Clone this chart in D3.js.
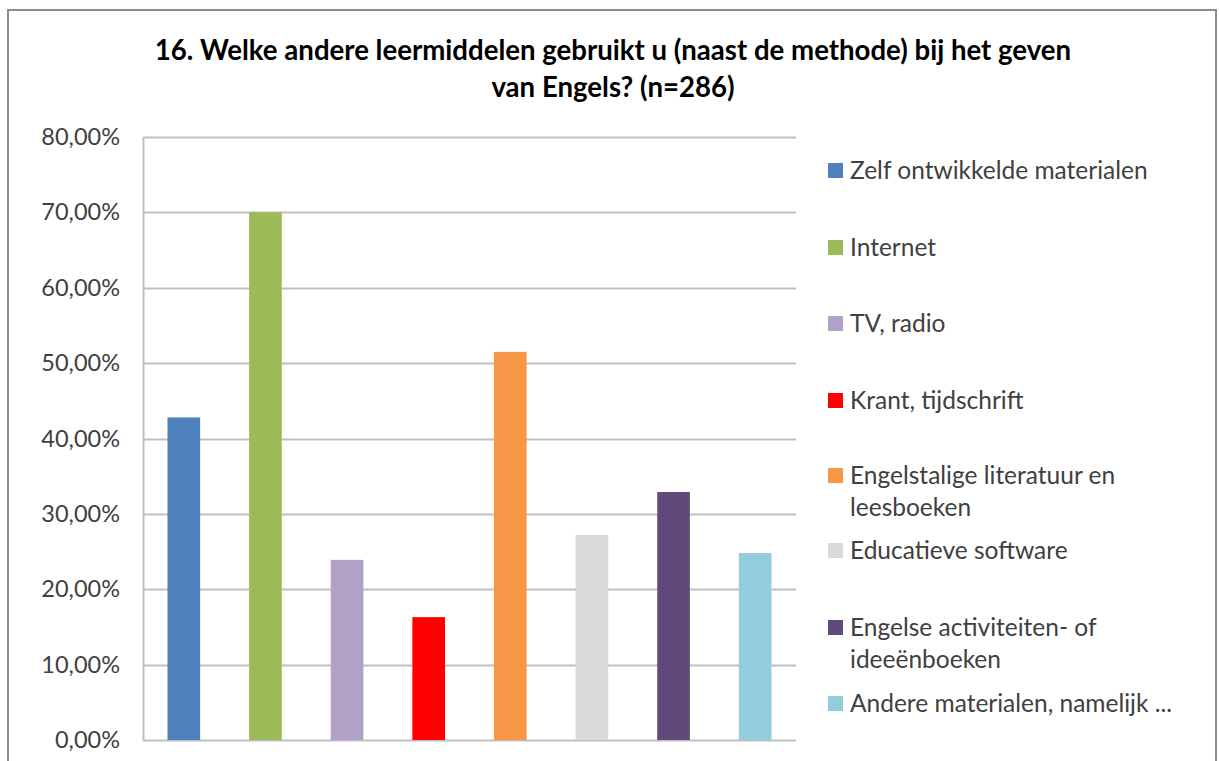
<!DOCTYPE html>
<html>
<head>
<meta charset="utf-8">
<script src="https://cdn.jsdelivr.net/npm/d3@7"></script>
<style>
  html, body { margin: 0; padding: 0; background: #fff; }
  svg { display: block; }
</style>
</head>
<body>
<svg id="chart"></svg>
<script>
// Gegevens van de grafiek
const titleLines = [
    '16. Welke andere leermiddelen gebruikt u (naast de methode) bij het geven',
    'van Engels? (n=286)'
];
const categories = [
    'Zelf ontwikkelde materialen',
    'Internet',
    'TV, radio',
    'Krant, tijdschrift',
    'Engelstalige literatuur en leesboeken',
    'Educatieve software',
    'Engelse activiteiten- of ideeënboeken',
    'Andere materialen, namelijk ...'
];
const legendLines = [
    ['Zelf ontwikkelde materialen'],
    ['Internet'],
    ['TV, radio'],
    ['Krant, tijdschrift'],
    ['Engelstalige literatuur en', 'leesboeken'],
    ['Educatieve software'],
    ['Engelse activiteiten- of', 'ideeënboeken'],
    ['Andere materialen, namelijk ...']
];
const values = [0.428, 0.700, 0.239, 0.163, 0.515, 0.272, 0.329, 0.248];
const colors = ['#4f81bd', '#9bbb59', '#b2a1c7', '#ff0000', '#f79646', '#d9d9d9', '#604a7b', '#93cddd'];
const yTicks = [0, 0.1, 0.2, 0.3, 0.4, 0.5, 0.6, 0.7, 0.8];

const width = 1219;
const height = 761;
const font = 'Lato, "Open Sans", sans-serif';

const svg = d3.select('#chart')
    .attr('width', width)
    .attr('height', height);

// Kader
svg.append('rect')
    .attr('x', 8)
    .attr('y', 10)
    .attr('width', 1208)
    .attr('height', 780)
    .attr('fill', '#fff')
    .attr('stroke', '#8c8c8c')
    .attr('stroke-width', 2);

// Titel
svg.append('g')
    .selectAll('text')
    .data(titleLines)
    .enter()
    .append('text')
    .attr('x', 613)
    .attr('y', (d, i) => 60 + i * 37)
    .attr('text-anchor', 'middle')
    .style('font-family', font)
    .style('font-weight', 'bold')
    .style('font-size', '27.6px')
    .style('fill', '#000')
    .text(d => d);

// Schalen
const x = d3.scaleBand()
    .domain(categories)
    .range([143, 796])
    .paddingInner(0.6)
    .paddingOuter(0.3);

const y = d3.scaleLinear()
    .domain([0, 0.8])
    .range([740, 137]);

const fmt = v => d3.format('.2f')(v * 100).replace('.', ',') + '%';

// Rasterlijnen
svg.append('g')
    .selectAll('line')
    .data(yTicks)
    .enter()
    .append('line')
    .attr('x1', 143)
    .attr('x2', 796)
    .attr('y1', d => Math.round(y(d)) + 0.5)
    .attr('y2', d => Math.round(y(d)) + 0.5)
    .attr('stroke', '#bfbfbf')
    .attr('stroke-width', 2);

// Y-as
const yAxis = svg.append('g')
    .attr('transform', 'translate(143,0)')
    .call(d3.axisLeft(y).tickValues(yTicks).tickFormat(fmt).tickSize(0).tickPadding(23));

yAxis.select('.domain')
    .attr('stroke', '#bfbfbf')
    .attr('stroke-width', 2);

yAxis.selectAll('text')
    .style('font-family', font)
    .style('font-size', '23.5px')
    .style('fill', '#404040');

// Staven
svg.append('g')
    .selectAll('rect')
    .data(values)
    .enter()
    .append('rect')
    .attr('x', (d, i) => x(categories[i]))
    .attr('y', d => y(d))
    .attr('width', x.bandwidth())
    .attr('height', d => y(0) - y(d))
    .attr('fill', (d, i) => colors[i]);

// Legenda
const legendTop = [170, 247, 323, 400, 475, 550, 627, 703];
const legend = svg.append('g')
    .selectAll('g')
    .data(legendLines)
    .enter()
    .append('g')
    .attr('transform', (d, i) => `translate(828,${ legendTop[i] })`);

legend.append('rect')
    .attr('x', 0)
    .attr('y', -7)
    .attr('width', 15)
    .attr('height', 15)
    .attr('fill', (d, i) => colors[i]);

legend.each(function(d) {
    d3.select(this).selectAll('text')
        .data(d)
        .enter()
        .append('text')
        .attr('x', 22)
        .attr('y', (t, j) => 9 + j * 32)
        .style('font-family', font)
        .style('font-size', '24.5px')
        .style('fill', '#404040')
        .text(t => t);
});
</script>
</body>
</html>
